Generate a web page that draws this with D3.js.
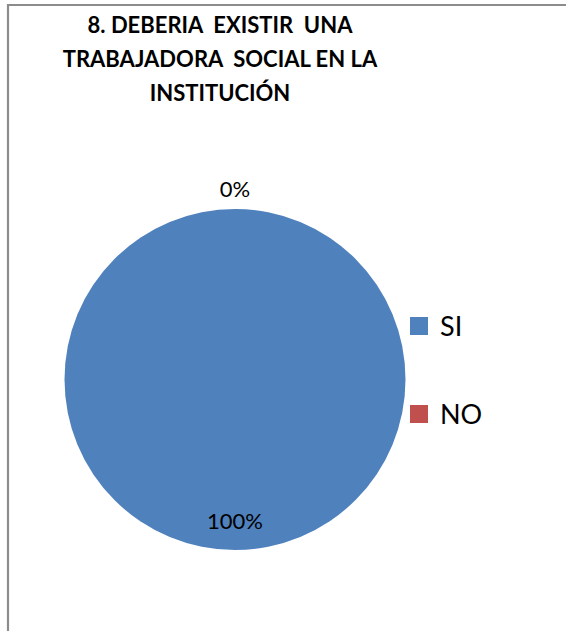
<!DOCTYPE html>
<html>
<head>
<meta charset="utf-8">
<script src="https://cdn.jsdelivr.net/npm/d3@7"></script>
<style>
  body { margin: 0; background: #fff; }
  svg { display: block; font-family: Lato, "Open Sans", sans-serif; }
</style>
</head>
<body>
<div id="chart"></div>
<script>
// Chart data
const titleLines = ["8. DEBERIA  EXISTIR  UNA", "TRABAJADORA  SOCIAL EN LA", "INSTITUCIÓN"];
const categories = ["SI", "NO"];
const values = [100, 0];
const colors = ["#4F81BD", "#C0504D"];

const width = 566, height = 631;
const cx = 235, cy = 379.5, radius = 170.5;

const svg = d3.select("#chart")
    .append("svg")
    .attr("width", width)
    .attr("height", height);

// chart frame (only top and left edges are visible in the crop)
svg.append("path")
    .attr("d", `M8,${height + 5} L8,5 L${width + 5},5`)
    .attr("fill", "none")
    .attr("stroke", "#8c8c8c")
    .attr("stroke-width", 2.2);

// Title
svg.append("text")
    .attr("x", 220)
    .attr("y", 33)
    .attr("text-anchor", "middle")
    .style("font-size", "22px")
    .style("font-weight", "bold")
    .style("white-space", "pre")
    .selectAll("tspan")
    .data(titleLines)
    .join("tspan")
    .attr("x", 220)
    .attr("dy", (d, i) => i === 0 ? 0 : 34)
    .text(d => d);

const data = categories.map((c, i) => ({ name: c, value: values[i] }));
const total = d3.sum(values);

const pie = d3.pie().sort(null).value(d => d.value);
const arcs = pie(data);

const arc = d3.arc().innerRadius(0).outerRadius(radius);

const g = svg.append("g").attr("transform", `translate(${cx},${cy})`);

g.selectAll("path")
    .data(arcs)
    .join("path")
    .attr("d", arc)
    .attr("fill", (d, i) => colors[i]);

// percentage labels: inside for the full slice, outside for the empty one
g.selectAll("text")
    .data(arcs)
    .join("text")
    .attr("transform", d => {
        const mid = (d.startAngle + d.endAngle) / 2;
        const r = d.value > 0 ? radius * 0.83 : radius + 20;
        return `translate(${Math.sin(mid) * r},${-Math.cos(mid) * r})`;
    })
    .attr("text-anchor", "middle")
    .attr("dy", "0.35em")
    .style("font-size", "22px")
    .attr("fill", "#000")
    .text(d => d3.format(".0%")(d.value / total));

// Legend
const legend = svg.append("g")
    .selectAll("g")
    .data(categories)
    .join("g")
    .attr("transform", (d, i) => `translate(410,${326 + i * 88})`);

legend.append("rect")
    .attr("y", -9)
    .attr("width", 18)
    .attr("height", 18)
    .attr("fill", (d, i) => colors[i]);

legend.append("text")
    .attr("x", 30)
    .attr("dy", "0.36em")
    .style("font-size", "27px")
    .text(d => d);
</script>
</body>
</html>
